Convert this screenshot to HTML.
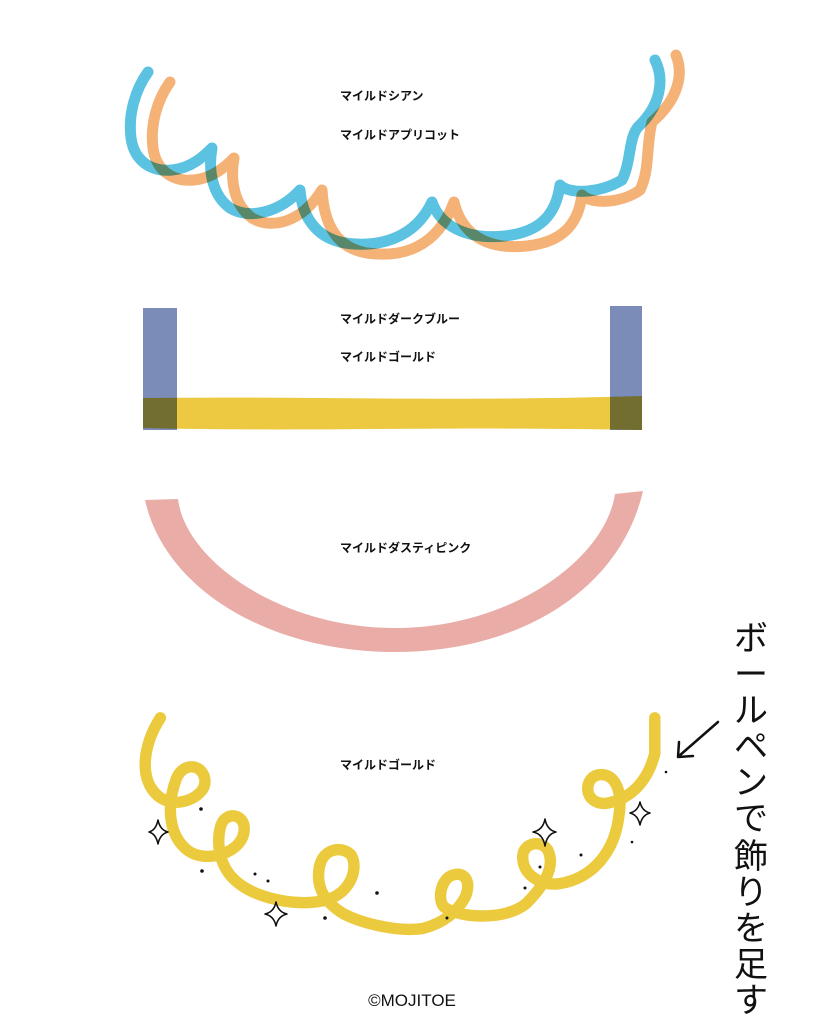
<!DOCTYPE html>
<html><head><meta charset="utf-8"><style>
html,body{margin:0;padding:0;background:#fff;}
svg{display:block}
.l{font-family:"Liberation Sans","Noto Sans CJK JP",sans-serif;font-size:12px;font-weight:bold;fill:#111;}
.h{font-family:"Liberation Sans","Noto Sans CJK JP",sans-serif;font-size:34px;fill:#111;text-anchor:middle;}
</style></head><body>
<svg width="819" height="1024" viewBox="0 0 819 1024" xmlns="http://www.w3.org/2000/svg">
<rect width="819" height="1024" fill="#fff"/>
<g fill="none" stroke-linecap="round" stroke-linejoin="round" stroke-width="11" style="mix-blend-mode:multiply">
<path id="sc" d="M148,72 C135,90 128,115 131,138 C134,160 150,172 172,170 C192,168 205,155 212,148 C208,170 212,195 230,208 C250,220 280,212 300,190 C302,215 315,238 345,243 C380,248 415,238 432,202 C440,225 465,240 505,236 C540,232 556,215 560,185 C570,195 600,193 622,180 C632,160 628,135 640,125 C660,105 665,80 655,60" stroke="#5cc2e1" style="mix-blend-mode:multiply"/>
<path d="M170,82 C157,100 150,125 153,148 C156,170 172,182 194,180 C214,178 227,165 234,158 C230,180 234,205 252,218 C272,230 302,222 322,190 C324,225 337,248 367,253 C402,258 437,248 454,202 C462,235 487,250 527,246 C562,242 578,225 582,195 C592,205 622,203 640,190 C650,170 646,145 652,122 C672,105 686,80 676,55" stroke="#f4b277" style="mix-blend-mode:multiply"/>
</g>
<text class="l" x="340" y="100">マイルドシアン</text>
<text class="l" x="340" y="139">マイルドアプリコット</text>
<g style="isolation:isolate">
<rect x="143" y="308" width="34" height="122" fill="#7b8cb9"/>
<rect x="610" y="306" width="32" height="124" fill="#7b8cb9"/>
<path d="M143,398 C300,396 450,402 642,396 L642,430 C450,426 300,432 143,428 Z" fill="#ecc940" style="mix-blend-mode:multiply"/>
</g>
<text class="l" x="340" y="323">マイルドダークブルー</text>
<text class="l" x="340" y="361">マイルドゴールド</text>
<path d="M145,500 L178,499 C185,560 280,628 395,628 C510,628 605,560 615,494 L643,491 C620,590 520,652 395,652 C270,652 165,590 145,500 Z" fill="#eaaca7"/>
<text class="l" x="340" y="552">マイルドダスティピンク</text>
<g transform="translate(130,700) scale(0.357)">
<path d="M85,50 C40,120 20,220 80,270 C130,310 210,270 210,230 C210,180 150,170 130,220 C100,300 110,380 160,420 C210,460 320,430 320,360 C320,320 270,310 255,350 C240,400 250,470 300,510 C360,560 480,580 550,560 C620,540 640,470 620,435 C600,410 540,410 530,470 C520,530 550,570 600,600 C660,630 760,650 820,640 C880,625 920,590 940,550 C955,510 940,480 905,490 C870,500 860,560 880,580 C920,610 1050,620 1110,570 C1170,510 1190,460 1170,420 C1150,390 1100,400 1100,440 C1100,490 1150,520 1200,515 C1300,500 1360,420 1370,320 C1380,260 1360,200 1310,210 C1270,220 1270,290 1330,290 C1400,280 1450,230 1470,150 L1470,50" fill="none" stroke="#ecca3e" stroke-width="32" stroke-linecap="round" stroke-linejoin="round"/>
</g>
<text class="l" x="340" y="769">マイルドゴールド</text>
<g fill="#fff" stroke="#111" stroke-width="1.6" stroke-linejoin="round">
<path d="M158,820 Q160,830 168,832 Q160,834 158,844 Q156,834 149,832 Q156,830 158,820 Z"/>
<path d="M276,902 Q278,912 287,914 Q278,916 276,926 Q274,916 265,914 Q274,912 276,902 Z"/>
<path d="M545,819 Q547,830 556,832 Q547,834 545,846 Q543,834 533,832 Q543,830 545,819 Z"/>
<path d="M640,802 Q642,811 650,813 Q642,815 640,825 Q638,815 630,813 Q638,811 640,802 Z"/>
</g>
<g fill="#111">
<circle cx="201" cy="809" r="1.8"/><circle cx="202" cy="871" r="1.8"/><circle cx="255" cy="874" r="1.5"/><circle cx="268" cy="881" r="1.5"/>
<circle cx="377" cy="893" r="1.8"/><circle cx="325" cy="918" r="1.8"/><circle cx="447" cy="918" r="1.5"/>
<circle cx="525" cy="888" r="1.5"/><circle cx="540" cy="867" r="1.5"/><circle cx="581" cy="855" r="1.5"/><circle cx="632" cy="842" r="1.3"/><circle cx="666" cy="772" r="1.3"/>
</g>
<g stroke="#111" stroke-width="2.5" fill="none" stroke-linecap="round" stroke-linejoin="round">
<path d="M718,722 L679,756"/><path d="M679,742 L678,757 L693,756"/>
</g>
<g class="h">
<text x="751" y="650">ボ</text><text x="751" y="686">ー</text><text x="751" y="722">ル</text><text x="751" y="758">ペ</text><text x="751" y="794">ン</text><text x="751" y="830">で</text><text x="751" y="868">飾</text><text x="751" y="904">り</text><text x="751" y="940">を</text><text x="751" y="976">足</text><text x="751" y="1012">す</text>
</g>
<text x="412" y="1006" text-anchor="middle" style="font-family:'Liberation Sans',sans-serif;font-size:17px;fill:#111">©MOJITOE</text>
</svg>
</body></html>
